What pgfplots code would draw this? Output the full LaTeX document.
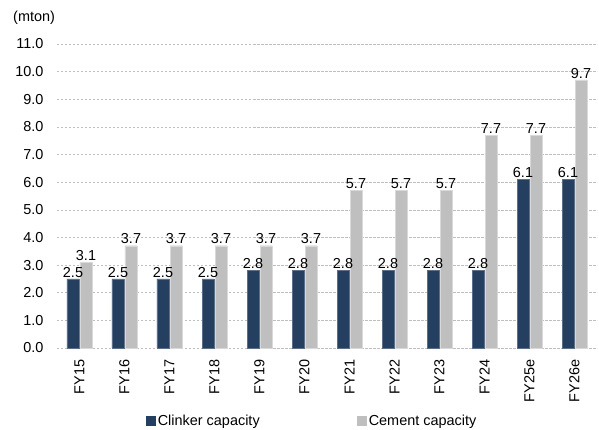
\documentclass[border=0pt]{standalone}
\usepackage{pgfplots}
\pgfplotsset{compat=1.18}
\usepackage{fontspec}
\setmainfont{Liberation Sans}
\definecolor{navy}{HTML}{243F60}
\definecolor{lgrey}{HTML}{BFBFBF}
\newcommand{\fs}{\fontsize{14.5}{17}\selectfont}
\begin{document}
\begin{tikzpicture}
\begin{axis}[
  at={(0,0)}, anchor=south west,
  scale only axis,
  width=540bp, height=304bp,
  xmin=-0.5, xmax=11.5,
  ymin=0, ymax=11,
  ytick={0,1,...,11},
  xtick={0,...,11},
  xticklabels={FY15,FY16,FY17,FY18,FY19,FY20,FY21,FY22,FY23,FY24,FY25e,FY26e},
  xticklabel style={rotate=90, anchor=east, font=\fs, xshift=-8bp},
  yticklabel style={font=\fs, xshift=-10bp},
  /pgf/number format/.cd, fixed, fixed zerofill, precision=1, assume math mode=true,
  /pgfplots/.cd,
  axis line style={draw=none},
  major tick length=0pt,
  ymajorgrids,
  grid style={dash pattern=on 2.5bp off 1.5bp, gray!50, line width=0.5pt},
  ybar,
  bar width=12bp,
  nodes near coords,
  nodes near coords style={font=\fs, text=black, inner sep=1.5bp, /pgf/number format/.cd, fixed, fixed zerofill, precision=1, assume math mode=true},
  legend style={at={(axis description cs:0.165,-0.240)}, anchor=west, draw=none, fill=none, inner sep=0pt, legend columns=2, font=\fs, nodes={inner sep=1.5bp}, /tikz/every even column/.append style={column sep=96bp}},
  legend image code/.code={\draw[#1, draw=none] (0bp,-5bp) rectangle (10bp,5bp);},
  clip=false,
]
\addplot[fill=navy, draw=navy!75!white, line width=0.4pt, bar shift=-6.5bp] coordinates {
(0,2.5) (1,2.5) (2,2.5) (3,2.5) (4,2.8) (5,2.8) (6,2.8) (7,2.8) (8,2.8) (9,2.8) (10,6.1) (11,6.1)};
\addplot[fill=lgrey, draw=lgrey!60!white, line width=0.4pt, bar shift=6.5bp] coordinates {
(0,3.1) (1,3.7) (2,3.7) (3,3.7) (4,3.7) (5,3.7) (6,5.7) (7,5.7) (8,5.7) (9,7.7) (10,7.7) (11,9.7)};
\legend{Clinker capacity, Cement capacity}
\end{axis}
\node[anchor=base west, font=\fs, inner sep=0pt] at (-44bp,326bp) {(mton)};
\pgfresetboundingbox
\path (-57bp,-82bp) rectangle (542bp,348bp);
\end{tikzpicture}
\end{document}
